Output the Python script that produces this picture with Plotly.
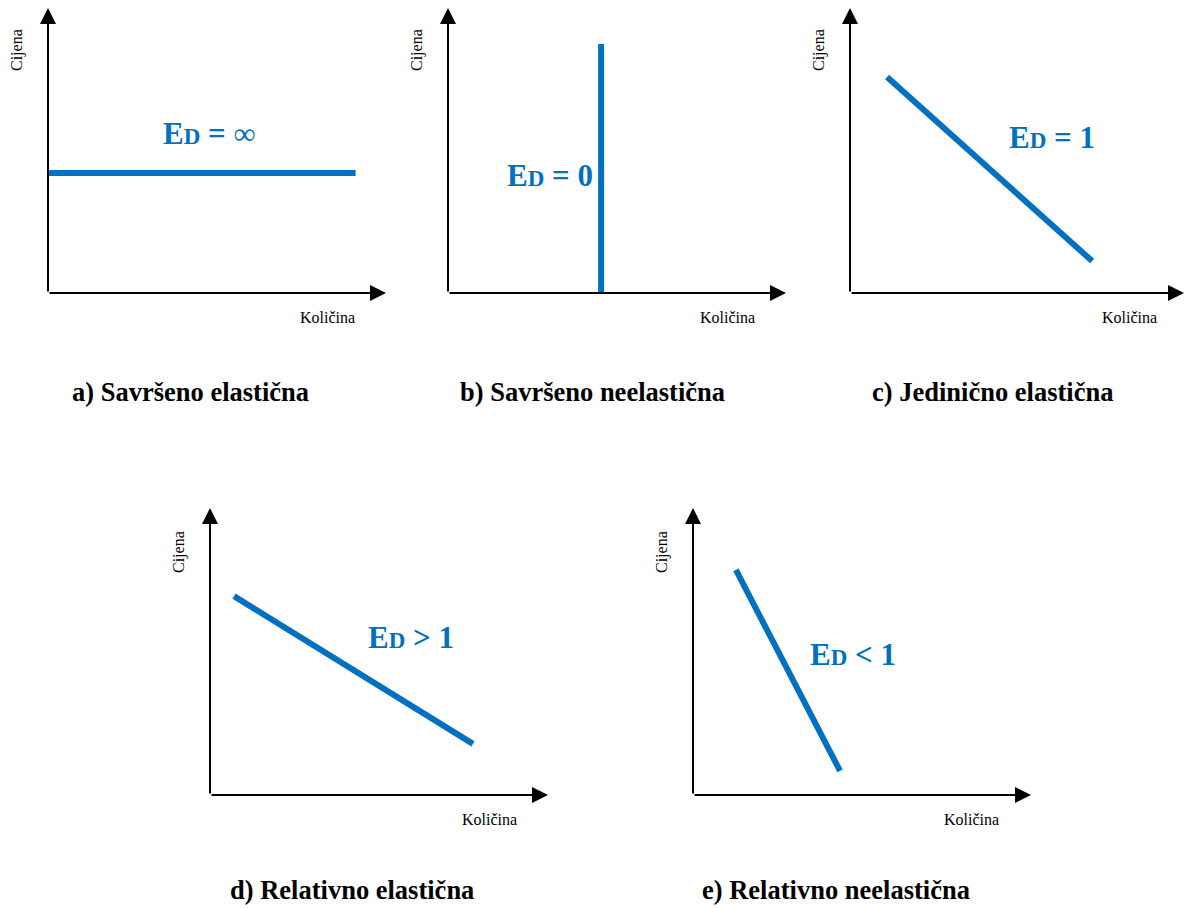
import plotly.graph_objects as go

W, H = 1186, 908
BLUE = "#0070C0"

# panel definitions: origin pixel and axis lengths (layout only)
panels = ["a", "b", "c", "d", "e"]
origin_px = {"a": (48, 293), "b": (448, 293), "c": (850, 293), "d": (210, 795), "e": (693, 795)}
axis_len_px = {"a": (338, 285), "b": (338, 285), "c": (334, 285), "d": (338, 287), "e": (338, 287)}

# demand curve data (axis units 0..10)
curve_x = {
    "a": [0.0, 9.1],
    "b": [4.53, 4.53],
    "c": [1.11, 7.25],
    "d": [0.71, 7.78],
    "e": [1.27, 4.35],
}
curve_y = {
    "a": [4.21, 4.21],
    "b": [0.0, 8.74],
    "c": [7.58, 1.12],
    "d": [6.93, 1.78],
    "e": [7.84, 0.84],
}
label_text = {
    "a": "= </b>∞<b>",
    "b": "= 0",
    "c": "= 1",
    "d": "> 1",
    "e": "< 1",
}
label_pos = {
    "a": (4.79, 5.61),
    "b": (3.02, 4.14),
    "c": (6.05, 5.47),
    "d": (5.95, 5.5),
    "e": (4.73, 4.91),
}
captions = {
    "a": "a) Savršeno elastična",
    "b": "b) Savršeno neelastična",
    "c": "c) Jedinično elastična",
    "d": "d) Relativno elastična",
    "e": "e) Relativno neelastična",
}
caption_px = {"a": (190, 392), "b": (592, 392), "c": (992, 392), "d": (352, 890), "e": (836, 890)}
y_label = "Cijena"
x_label = "Količina"

fig = go.Figure()
annotations = []
layout_axes = {}

for i, p in enumerate(panels):
    n = "" if i == 0 else str(i + 1)
    xa, ya = "x" + n, "y" + n
    ox, oy = origin_px[p]
    lx, ly = axis_len_px[p]
    layout_axes["xaxis" + n] = dict(domain=[ox / W, min(1, (ox + lx) / W)], range=[0, 10], visible=False,
                                    fixedrange=True, anchor=ya)
    layout_axes["yaxis" + n] = dict(domain=[1 - oy / H, 1 - (oy - ly) / H], range=[0, 10], visible=False,
                                    fixedrange=True, anchor=xa)
    fig.add_trace(go.Scatter(x=curve_x[p], y=curve_y[p], mode="lines", xaxis=xa, yaxis=ya,
                             line=dict(color=BLUE, width=6), showlegend=False, hoverinfo="skip",
                             cliponaxis=False))
    # axes with arrows
    annotations.append(dict(x=10, y=0, ax=0, ay=0, xref=xa, yref=ya, axref=xa, ayref=ya,
                            showarrow=True, arrowhead=2, arrowsize=1.6, arrowwidth=2, arrowcolor="black", text=""))
    annotations.append(dict(x=0, y=10, ax=0, ay=0, xref=xa, yref=ya, axref=xa, ayref=ya,
                            showarrow=True, arrowhead=2, arrowsize=1.6, arrowwidth=2, arrowcolor="black", text=""))
    # elasticity label
    lxp, lyp = label_pos[p]
    annotations.append(dict(x=lxp, y=lyp, xref=xa, yref=ya, showarrow=False,
                            xanchor="center", yanchor="middle",
                            text="<b>E<span style='font-size:23px'>D</span> " + label_text[p] + "</b>",
                            font=dict(family="Liberation Serif", size=31, color=BLUE)))
    # axis titles
    annotations.append(dict(x=(ox - 31) / W, y=1 - (oy - 243) / H, xref="paper", yref="paper", showarrow=False,
                            xanchor="center", yanchor="middle",
                            text=y_label, textangle=-90,
                            font=dict(family="Liberation Serif", size=16, color="black")))
    annotations.append(dict(x=(ox + 279) / W, y=1 - (oy + 24) / H, xref="paper", yref="paper", showarrow=False,
                            xanchor="center", yanchor="middle",
                            text=x_label, font=dict(family="Liberation Serif", size=16, color="black")))
    cx, cy = caption_px[p]
    annotations.append(dict(x=cx / W, y=1 - cy / H, xref="paper", yref="paper", showarrow=False,
                            xanchor="center", yanchor="middle",
                            text="<b>" + captions[p] + "</b>",
                            font=dict(family="Liberation Serif", size=26.5, color="black")))

fig.update_layout(width=W, height=H, margin=dict(l=0, r=0, t=0, b=0),
                  paper_bgcolor="white", plot_bgcolor="rgba(0,0,0,0)",
                  annotations=annotations, **layout_axes)

fig.write_html("out.html", config={"displayModeBar": False},
               post_script="document.body.style.margin='0';document.body.style.overflow='hidden';")
